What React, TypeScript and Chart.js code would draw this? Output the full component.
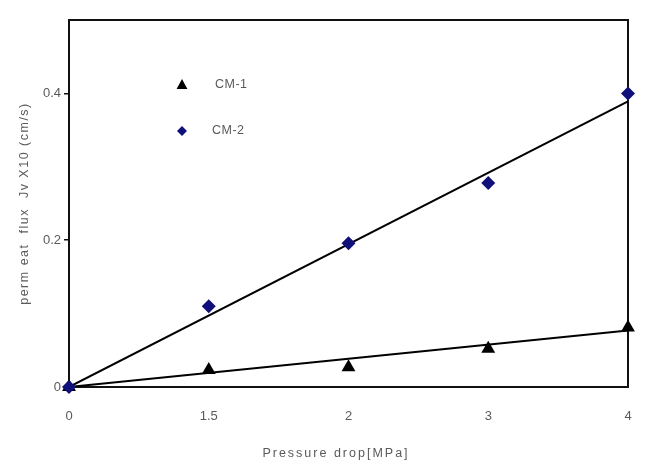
import React, { useEffect, useRef } from 'react';
import { Chart, registerables } from 'chart.js';

Chart.register(...registerables);

const categories = ['0', '1.5', '2', '3', '4'];
const cm1Values = [0, 0.023, 0.027, 0.052, 0.081];
const cm2Values = [0, 0.11, 0.196, 0.278, 0.4];
const cm1Fit = [0, null, null, null, 0.077];
const cm2Fit = [0, null, null, null, 0.389];
const yTicks = [0, 0.2, 0.4];
const seriesNames = ['CM-1', 'CM-2'];
const xTitle = 'Pressure drop[MPa]';
const yTitle = 'perm eat  flux  Jv X10 (cm/s)';

const TEXT = '#5a5a5a';
const NAVY = '#10107a';

function drawTriangle(ctx: CanvasRenderingContext2D, x: number, y: number, r: number) {
  ctx.beginPath();
  ctx.moveTo(x, y - r);
  ctx.lineTo(x + r * 0.9, y + r * 0.65);
  ctx.lineTo(x - r * 0.9, y + r * 0.65);
  ctx.closePath();
  ctx.fill();
}
function drawDiamond(ctx: CanvasRenderingContext2D, x: number, y: number, r: number) {
  ctx.beginPath();
  ctx.moveTo(x, y - r);
  ctx.lineTo(x + r, y);
  ctx.lineTo(x, y + r);
  ctx.lineTo(x - r, y);
  ctx.closePath();
  ctx.fill();
}

const overlay = {
  id: 'overlay',
  beforeDatasetsDraw(chart: any) {
    const { ctx, chartArea: ca } = chart;
    ctx.save();
    ctx.strokeStyle = '#111';
    ctx.lineWidth = 2;
    ctx.strokeRect(ca.left, ca.top, ca.right - ca.left, ca.bottom - ca.top);
    ctx.restore();
  },
  afterDraw(chart: any) {
    const { ctx, chartArea: ca } = chart;
    ctx.save();
    // legend
    ctx.fillStyle = '#000';
    drawTriangle(ctx, ca.left + 113, ca.top + 65, 6);
    ctx.fillStyle = NAVY;
    drawDiamond(ctx, ca.left + 113, ca.top + 111, 5);
    ctx.fillStyle = TEXT;
    ctx.font = '12.5px "Liberation Sans", Arial, sans-serif';
    ctx.textBaseline = 'middle';
    ctx.textAlign = 'left';
    (ctx as any).letterSpacing = '0.5px';
    ctx.fillText(seriesNames[0], ca.left + 146, ca.top + 65);
    ctx.fillText(seriesNames[1], ca.left + 143, ca.top + 111);
    // x title
    (ctx as any).letterSpacing = '2px';
    ctx.textAlign = 'center';
    ctx.fillText(xTitle, 336, 454);
    // y title
    (ctx as any).letterSpacing = '1.5px';
    ctx.translate(25, (ca.top + ca.bottom) / 2);
    ctx.rotate(-Math.PI / 2);
    ctx.fillText(yTitle, 0, 0);
    ctx.restore();
  },
};

export default function App() {
  const ref = useRef<HTMLCanvasElement | null>(null);
  useEffect(() => {
    document.body.style.margin = '0';
    const canvas = ref.current;
    if (!canvas) return;
    const chart = new Chart(canvas, {
      type: 'line',
      data: {
        labels: categories,
        datasets: [
          {
            label: seriesNames[0] + ' fit',
            data: cm1Fit,
            borderColor: '#000',
            borderWidth: 2,
            pointRadius: 0,
            spanGaps: true,
            fill: false,
            order: 2,
          },
          {
            label: seriesNames[1] + ' fit',
            data: cm2Fit,
            borderColor: '#000',
            borderWidth: 2,
            pointRadius: 0,
            spanGaps: true,
            fill: false,
            order: 2,
          },
          {
            label: seriesNames[0],
            data: cm1Values,
            showLine: false,
            pointStyle: 'triangle',
            pointRadius: 8,
            pointBackgroundColor: '#000',
            pointBorderColor: '#000',
            pointBorderWidth: 0,
            clip: false,
            order: 1,
          },
          {
            label: seriesNames[1],
            data: cm2Values,
            showLine: false,
            pointStyle: 'rectRot',
            pointRadius: 7,
            pointBackgroundColor: NAVY,
            pointBorderColor: NAVY,
            pointBorderWidth: 0,
            clip: false,
            order: 0,
          },
        ] as any,
      },
      options: {
        responsive: false,
        animation: false,
        layout: { padding: { left: 0, right: 18, top: 20, bottom: 0 } },
        plugins: {
          legend: { display: false },
          tooltip: { enabled: false },
        },
        scales: {
          x: {
            type: 'category',
            offset: false,
            grid: { display: false, drawTicks: false },
            border: { display: false },
            ticks: {
              padding: 22,
              color: TEXT,
              font: { size: 13, family: '"Liberation Sans", Arial, sans-serif' },
              maxRotation: 0,
            },
            afterFit: (s: any) => {
              s.height = 80;
              s.paddingLeft = 0;
              s.paddingRight = 0;
            },
          },
          y: {
            type: 'linear',
            min: 0,
            max: 0.5,
            grid: {
              display: true,
              drawOnChartArea: false,
              drawTicks: true,
              tickLength: 5,
              color: '#111',
              lineWidth: 1.5,
            },
            border: { display: false },
            ticks: {
              padding: 3,
              color: TEXT,
              font: { size: 13, family: '"Liberation Sans", Arial, sans-serif' },
              callback: (v: any) => String(v),
            },
            afterBuildTicks: (s: any) => {
              s.ticks = yTicks.map((v) => ({ value: v }));
            },
            afterFit: (s: any) => {
              s.width = 69;
              s.paddingTop = 0;
              s.paddingBottom = 0;
            },
          },
        },
      },
      plugins: [overlay],
    });
    return () => chart.destroy();
  }, []);
  return (
    <div style={{ width: 646, height: 467, background: '#fff' }}>
      <canvas ref={ref} width={646} height={467} style={{ display: 'block' }} />
    </div>
  );
}
